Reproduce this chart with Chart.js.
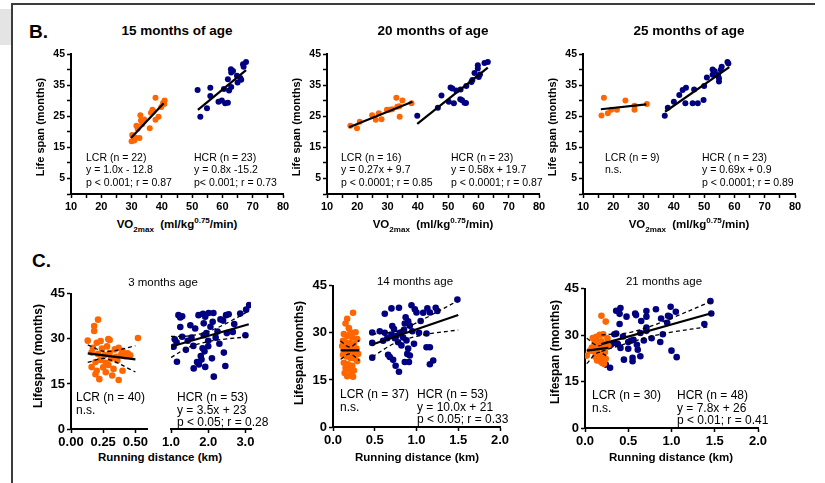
<!DOCTYPE html>
<html><head><meta charset="utf-8">
<script src="https://cdn.jsdelivr.net/npm/chart.js@4.4.0/dist/chart.umd.min.js"></script>
<style>
html,body{margin:0;padding:0;background:#fff;}
#fig{position:relative;width:825px;height:483px;overflow:hidden;background:#fff;font-family:"Liberation Sans",Arial,Helvetica,sans-serif;color:#000;}
#fig canvas{position:absolute;}
.t{position:absolute;white-space:nowrap;line-height:1;}
.l{transform:translateY(-50%);}
.c{transform:translate(-50%,-50%);}
.r{transform:translate(-50%,-50%) rotate(-90deg);}
.ln{position:absolute;background:#3c3c3c;}
sub,sup{font-size:70%;line-height:0;}
</style></head><body><div id="fig"></div>
<script>
// ---------- Panel B: VO2max vs life span ----------
const b15LcrX = [30.0,30.2,30.9,31.2,31.6,32.0,32.6,32.9,33.1,33.5,34.2,36.0,36.4,36.9,37.2,37.9,37.9,38.9,39.8,40.4,40.8,40.9];
const b15LcrY = [17.0,19.0,17.2,18.2,22.0,21.0,18.0,25.4,23.7,22.5,24.0,21.2,26.2,27.1,26.6,31.0,23.9,24.9,28.0,29.3,29.0,30.1];
const b15HcrX = [51.8,52.7,54.9,56.0,56.0,58.7,59.8,60.5,60.9,61.8,61.8,62.2,62.8,62.9,62.9,63.5,64.8,65.0,65.9,66.2,66.8,67.0,67.8];
const b15HcrY = [33.5,24.9,27.6,34.2,31.6,29.7,30.1,33.8,29.2,29.4,37.0,33.3,40.2,39.1,34.5,39.6,38.1,35.9,37.4,36.8,41.8,41.0,42.5];
const b15LcrFitX = [29.8,40.6], b15LcrFitY = [18.0,29.2];
const b15HcrFitX = [51.9,67.8], b15HcrFitY = [27.1,39.9];

const b20LcrX = [17.7,19.9,20.8,24.9,26.1,27.1,28.0,29.8,30.6,32.9,33.2,33.9,34.0,34.9,37.9,31.5];
const b20LcrY = [22.0,21.2,23.3,25.4,23.9,26.0,24.1,27.1,27.1,31.0,28.1,28.3,24.9,30.1,29.2,27.3];
const b20HcrX = [39.8,46.6,47.8,50.2,50.8,51.4,51.9,52.7,54.0,54.6,55.4,55.9,54.1,56.0,57.7,58.0,58.7,59.8,60.1,59.8,62.0,63.1,60.5];
const b20HcrY = [25.2,27.8,31.7,29.7,34.3,34.0,29.2,33.3,30.5,30.2,29.4,29.3,33.7,34.8,36.1,36.7,39.0,40.4,37.7,41.5,42.2,42.5,38.5];
const b20LcrFitX = [17.3,38.2], b20LcrFitY = [21.5,29.7];
const b20HcrFitX = [39.8,63.1], b20HcrFitY = [22.6,40.7];

const b25LcrX = [16.1,16.9,18.2,19.3,21.2,24.0,27.0,27.0,31.1];
const b25LcrY = [25.3,31.0,26.0,27.1,27.1,30.1,28.4,27.1,29.0];
const b25HcrX = [37.0,38.0,40.0,41.8,42.9,44.0,43.8,46.2,47.9,46.7,49.8,50.0,50.9,52.8,52.8,54.6,54.9,54.9,55.5,55.8,57.7,58.0,53.5];
const b25HcrY = [25.2,27.8,29.7,31.9,33.5,34.2,29.2,29.2,29.2,33.7,30.3,34.8,37.5,40.1,38.4,38.3,36.2,37.3,40.0,41.0,42.5,42.0,39.5];
const b25LcrFitX = [15.9,30.9], b25LcrFitY = [27.3,28.9];
const b25HcrFitX = [37.1,58.3], b25HcrFitY = [26.5,40.9];

// ---------- Panel C: running distance vs lifespan ----------
const c3LcrX = [0.21,0.18,0.18,0.13,0.20,0.23,0.29,0.30,0.52,0.17,0.24,0.28,0.34,0.37,0.40,0.44,0.16,0.21,0.26,0.30,0.35,0.39,0.42,0.46,0.19,0.23,0.27,0.31,0.36,0.16,0.20,0.25,0.29,0.33,0.22,0.32,0.37,0.40,0.19,0.27];
const c3LcrY = [36.4,34.3,32.6,29.4,28.7,29.3,29.9,29.6,30.3,27.0,26.8,27.5,26.5,27.0,26.0,25.2,25.5,25.0,24.6,25.3,24.0,24.8,24.2,24.5,22.3,23.0,22.0,23.4,22.8,20.6,19.4,20.5,21.3,20.0,16.6,17.8,16.3,19.4,18.2,18.9];
const c3HcrX = [1.07,1.10,1.15,1.16,1.20,1.25,1.25,1.30,1.30,1.40,1.45,1.52,1.55,1.60,1.61,1.65,1.70,1.74,1.75,1.80,1.82,1.85,1.86,1.88,1.88,1.90,1.92,1.92,1.95,2.00,2.00,2.01,2.06,2.10,2.12,2.14,2.15,2.20,2.25,2.30,2.33,2.40,2.42,2.46,2.48,2.50,2.55,2.66,2.70,2.86,3.00,3.02,3.10];
const c3HcrY = [27.0,29.5,28.5,22.1,37.4,36.6,33.5,30.3,37.0,26.0,29.0,34.1,30.0,27.3,19.9,33.0,22.0,37.4,21.2,24.0,22.8,26.5,37.8,34.7,30.8,25.5,20.4,36.9,31.5,29.0,27.2,38.1,33.6,23.2,35.2,38.1,17.2,30.0,32.0,28.0,36.0,35.6,25.1,20.7,37.4,31.5,37.7,31.9,34.5,37.9,30.8,39.2,40.7];
const c3LcrFitX = [0.13,0.50], c3LcrFitY = [25.2,23.2];
const c3LcrUpX = [0.13,0.27,0.50], c3LcrUpY = [28.0,25.8,27.7];
const c3LcrLoX = [0.13,0.27,0.50], c3LcrLoY = [22.2,23.4,19.0];
const c3HcrFitX = [1.03,3.09], c3HcrFitY = [27.2,34.4];
const c3HcrUpX = [1.0,1.5,2.0,2.5,3.1], c3HcrUpY = [30.4,30.6,32.0,34.8,38.8];
const c3HcrLoX = [1.0,1.5,2.0,2.5,3.1], c3HcrLoY = [23.5,27.0,28.7,29.6,30.3];

const c14LcrX = [0.24,0.17,0.15,0.19,0.21,0.27,0.13,0.17,0.23,0.29,0.12,0.15,0.20,0.25,0.11,0.18,0.22,0.28,0.14,0.19,0.24,0.30,0.12,0.16,0.21,0.26,0.29,0.13,0.18,0.23,0.15,0.20,0.25,0.14,0.22,0.17,0.24];
const c14LcrY = [36.4,34.5,33.0,31.5,30.2,30.2,29.6,29.0,28.6,28.0,27.5,27.0,26.8,26.6,25.8,25.5,25.2,25.0,24.5,24.0,23.8,23.3,23.0,22.5,22.0,21.8,21.0,20.5,20.0,19.5,18.8,18.3,18.0,17.2,16.8,16.2,16.0];
const c14HcrX = [1.49,0.94,0.98,1.00,0.79,0.70,0.62,0.87,0.90,1.13,1.16,1.23,1.25,1.08,0.71,0.92,0.86,0.47,0.47,0.47,0.62,0.70,0.74,0.80,0.78,0.84,0.76,0.88,0.82,0.65,0.68,0.72,0.66,0.89,0.92,0.86,0.91,0.79,1.16,1.12,1.12,1.20,1.16,0.75,0.56,0.60,0.95,1.03,0.97,0.85,0.73,0.90,1.05];
const c14HcrY = [40.6,38.8,37.5,36.5,38.0,37.8,36.1,35.0,33.7,37.8,36.5,38.0,37.0,36.4,32.2,32.3,33.0,30.1,26.8,22.1,30.0,29.5,28.3,30.0,27.0,28.5,29.0,27.6,26.0,28.3,22.3,21.4,23.0,23.3,22.8,20.7,20.7,17.6,25.4,25.4,29.8,21.2,20.0,19.5,30.5,27.5,30.5,30.0,26.5,31.0,31.2,25.0,33.8];
const c14LcrFitX = [0.09,0.315], c14LcrFitY = [24.4,24.4];
const c14LcrUpX = [0.09,0.20,0.315], c14LcrUpY = [27.4,25.5,27.6];
const c14LcrLoX = [0.09,0.20,0.315], c14LcrLoY = [21.6,23.3,21.2];
const c14HcrFitX = [0.47,1.50], c14HcrFitY = [26.3,35.7];
const c14HcrUpX = [0.47,0.70,0.85,1.00,1.20,1.50], c14HcrUpY = [29.6,30.2,31.3,33.2,36.0,40.3];
const c14HcrLoX = [0.47,0.70,0.85,1.00,1.20,1.50], c14HcrLoY = [22.3,26.2,27.8,28.9,29.9,30.9];

const c21LcrX = [0.19,0.24,0.02,0.20,0.17,0.09,0.13,0.21,0.11,0.15,0.19,0.25,0.08,0.12,0.16,0.22,0.10,0.14,0.18,0.23,0.27,0.12,0.16,0.20,0.24,0.14,0.18,0.22,0.06,0.26];
const c21LcrY = [36.3,34.4,23.4,21.0,30.1,29.1,29.5,30.3,27.5,27.8,28.0,27.3,26.0,26.3,26.0,25.8,24.8,24.5,24.0,24.6,26.5,23.0,22.5,23.0,22.4,21.8,21.5,20.8,25.0,29.0];
const c21HcrX = [1.45,1.46,1.38,0.41,0.36,0.40,0.48,0.58,0.59,0.71,0.71,0.82,0.99,0.96,0.98,1.05,0.88,0.40,0.65,0.34,0.71,0.71,0.64,0.77,0.90,0.53,0.56,0.50,0.38,0.33,0.30,0.87,0.41,0.60,0.61,0.50,0.64,0.45,0.55,0.55,1.06,1.00,0.24,0.29,0.36,0.44,0.68,0.95];
const c21HcrY = [41.0,37.0,33.6,38.8,37.9,36.9,36.0,37.0,36.5,37.8,36.0,38.4,39.2,36.3,36.0,37.6,35.4,33.6,34.6,30.3,32.5,31.4,30.7,29.0,30.3,28.2,28.5,27.8,27.1,27.5,26.9,27.8,25.9,26.9,25.3,25.6,23.2,22.1,22.7,21.6,22.9,25.0,20.5,19.5,30.5,29.6,28.3,34.0];
const c21LcrFitX = [0.02,0.27], c21LcrFitY = [25.0,25.9];
const c21LcrUpX = [0.02,0.15,0.27], c21LcrUpY = [29.0,26.6,28.0];
const c21LcrLoX = [0.02,0.15,0.27], c21LcrLoY = [20.8,24.4,23.0];
const c21HcrFitX = [0.19,1.45], c21HcrFitY = [27.1,37.0];
const c21HcrUpX = [0.19,0.50,0.75,1.00,1.45], c21HcrUpY = [30.1,30.8,32.8,35.5,40.8];
const c21HcrLoX = [0.19,0.50,0.75,1.00,1.45], c21HcrLoY = [24.8,27.5,29.5,31.0,32.8];

// ---------- helpers ----------
const ORANGE = '#FF6600', NAVY = '#000080';
const FONT = '"Liberation Sans", Arial, Helvetica, sans-serif';
const fig = document.getElementById('fig');
const zip = (xs, ys) => xs.map((x, i) => ({x, y: ys[i]}));
const dots = (xs, ys, c, r) => ({data: zip(xs, ys), backgroundColor: c, borderColor: c, pointRadius: r || 3, pointBorderWidth: 0, showLine: false});
const fit = (xs, ys) => ({data: zip(xs, ys), showLine: true, pointRadius: 0, borderColor: '#000', borderWidth: 2.2, fill: false});
const band = (xs, ys) => ({data: zip(xs, ys), showLine: true, pointRadius: 0, borderColor: '#000', borderWidth: 1.3, borderDash: [4, 3], tension: 0.35, fill: false});

function plot(o) {
  const cv = document.createElement('canvas');
  const padT = 8, padR = 14, YW = o.showY ? 34 : 0, padL = o.showY ? 0 : 12, XH = 22;
  const W = Math.round(o.W), H = Math.round(o.H);
  cv.width = W + YW + padR + padL; cv.height = H + padT + XH;
  cv.style.left = (Math.round(o.L) - YW - padL) + 'px';
  cv.style.top = (Math.round(o.T) - padT) + 'px';
  fig.appendChild(cv);
  const tickFont = s => ({family: FONT, size: s, weight: 'bold'});
  new Chart(cv, {
    type: 'scatter',
    data: {datasets: o.datasets},
    options: {
      responsive: false, animation: false, events: [],
      layout: {padding: {top: padT, right: padR, left: padL, bottom: 0}},
      plugins: {legend: {display: false}, tooltip: {enabled: false}, title: {display: false}},
      scales: {
        x: {
          type: 'linear', min: o.xMin, max: o.xMax,
          afterFit: s => { s.height = XH; },
          border: {display: true, color: '#000', width: 2},
          grid: {display: true, drawOnChartArea: false, drawTicks: true, tickLength: 4, tickColor: '#000', tickWidth: 1.5},
          ticks: {stepSize: o.xStep, includeBounds: false, autoSkip: false, maxRotation: 0, padding: 2, color: '#000', font: tickFont(o.xFont), callback: o.xCb}
        },
        y: {
          type: 'linear', display: o.showY, min: 0, max: 45,
          afterFit: s => { s.width = YW; },
          border: {display: true, color: '#000', width: 2},
          grid: {display: true, drawOnChartArea: false, drawTicks: true, tickLength: 4, tickColor: '#000', tickWidth: 1.5},
          ticks: {stepSize: o.yStep, includeBounds: false, autoSkip: false, padding: 2, color: '#000', font: tickFont(o.yFont), callback: o.yCb}
        }
      }
    }
  });
}

function txt(html, x, y, size, weight, mode) {
  const d = document.createElement('div');
  d.className = 't ' + mode;
  d.style.left = x + 'px'; d.style.top = y + 'px';
  d.style.fontSize = size + 'px'; d.style.fontWeight = weight;
  d.innerHTML = html;
  fig.appendChild(d);
}
function line(x, y, w, h, color) {
  const d = document.createElement('div');
  d.className = 'ln';
  d.style.left = x + 'px'; d.style.top = y + 'px'; d.style.width = w + 'px'; d.style.height = h + 'px';
  if (color) d.style.background = color;
  fig.appendChild(d);
}

// frame
line(0, 9, 11, 36, '#e4e4e4');
line(11, 3, 804, 2);
line(11, 3, 2, 480);

// ---------- Panel B ----------
const bX = v => (v % 10 === 0 ? v : '');
const bY = v => (v % 10 === 5 ? v : '');
const bPanels = [
  {L: 71, title: '15 months of age', ds: [fit(b15LcrFitX, b15LcrFitY), fit(b15HcrFitX, b15HcrFitY), dots(b15LcrX, b15LcrY, ORANGE), dots(b15HcrX, b15HcrY, NAVY)],
   lcr: ['LCR (n = 22)', 'y = 1.0x - 12.8', 'p &lt; 0.001; r = 0.87'], hcr: ['HCR (n = 23)', 'y = 0.8x -15.2', 'p&lt; 0.001; r = 0.73'], lx: 86, hx: 194},
  {L: 327, title: '20 months of age', ds: [fit(b20LcrFitX, b20LcrFitY), fit(b20HcrFitX, b20HcrFitY), dots(b20LcrX, b20LcrY, ORANGE), dots(b20HcrX, b20HcrY, NAVY)],
   lcr: ['LCR (n = 16)', 'y = 0.27x + 9.7', 'p &lt; 0.0001; r = 0.85'], hcr: ['HCR (n = 23)', 'y = 0.58x + 19.7', 'p &lt; 0.0001; r = 0.87'], lx: 341, hx: 451},
  {L: 583, title: '25 months of age', ds: [fit(b25LcrFitX, b25LcrFitY), fit(b25HcrFitX, b25HcrFitY), dots(b25LcrX, b25LcrY, ORANGE), dots(b25HcrX, b25HcrY, NAVY)],
   lcr: ['LCR (n = 9)', 'n.s.'], hcr: ['HCR ( n = 23)', 'y = 0.69x + 0.9', 'p &lt; 0.0001; r = 0.89'], lx: 605, hx: 702}
];
bPanels.forEach(p => {
  plot({L: p.L, T: 54, W: 212, H: 140, showY: true, xMin: 10, xMax: 80, xStep: 5, xCb: bX, xFont: 11, yStep: 5, yCb: bY, yFont: 10.5, datasets: p.ds});
  txt(p.title, p.L + 106, 31, 13.5, 'bold', 'c');
  txt('Life span (months)', p.L - 31, 127, 11, 'bold', 'r');
  txt('VO<sub>2max</sub>&nbsp; (ml/kg<sup>0.75</sup>/min)', p.L + 106, 225, 11.5, 'bold', 'c');
  p.lcr.forEach((s, i) => txt(s, p.lx, 157 + i * 12.3, 10.5, 'normal', 'l'));
  p.hcr.forEach((s, i) => txt(s, p.hx, 157 + i * 12.3, 10.5, 'normal', 'l'));
});
txt('B.', 29, 31, 19, 'bold', 'l');

// ---------- Panel C ----------
const cY = v => v;
const f1 = v => v.toFixed(1), f2 = v => v.toFixed(2);
const CR = 3.3, CF = 13;
// 3 months age (broken x axis)
plot({L: 71, T: 292, W: 76, H: 137, showY: true, xMin: 0, xMax: 0.59, xStep: 0.25, xCb: f2, xFont: CF, yStep: 15, yCb: cY, yFont: CF,
  datasets: [fit(c3LcrFitX, c3LcrFitY), band(c3LcrUpX, c3LcrUpY), band(c3LcrLoX, c3LcrLoY), dots(c3LcrX, c3LcrY, ORANGE, CR)]});
plot({L: 171, T: 292, W: 80, H: 137, showY: false, xMin: 1.0, xMax: 3.15, xStep: 1, xCb: f1, xFont: CF, yStep: 15, yCb: cY, yFont: CF,
  datasets: [fit(c3HcrFitX, c3HcrFitY), band(c3HcrUpX, c3HcrUpY), band(c3HcrLoX, c3HcrLoY), dots(c3HcrX, c3HcrY, NAVY, CR)]});
// 14 months age
plot({L: 333, T: 284, W: 167, H: 143, showY: true, xMin: 0, xMax: 2, xStep: 0.5, xCb: f1, xFont: CF, yStep: 15, yCb: cY, yFont: CF,
  datasets: [fit(c14LcrFitX, c14LcrFitY), band(c14LcrUpX, c14LcrUpY), band(c14LcrLoX, c14LcrLoY),
             fit(c14HcrFitX, c14HcrFitY), band(c14HcrUpX, c14HcrUpY), band(c14HcrLoX, c14HcrLoY),
             dots(c14LcrX, c14LcrY, ORANGE, CR), dots(c14HcrX, c14HcrY, NAVY, CR)]});
// 21 months age
plot({L: 585, T: 287, W: 173, H: 141, showY: true, xMin: 0, xMax: 2, xStep: 0.5, xCb: f1, xFont: CF, yStep: 15, yCb: cY, yFont: CF,
  datasets: [fit(c21LcrFitX, c21LcrFitY), band(c21LcrUpX, c21LcrUpY), band(c21LcrLoX, c21LcrLoY),
             fit(c21HcrFitX, c21HcrFitY), band(c21HcrUpX, c21HcrUpY), band(c21HcrLoX, c21HcrLoY),
             dots(c21LcrX, c21LcrY, ORANGE, CR), dots(c21HcrX, c21HcrY, NAVY, CR)]});

txt('C.', 32, 260, 19, 'bold', 'l');
const cPanels = [
  {title: '3 months age', tx: 163, ty: 283, yx: 38, yy: 356, xx: 160, lx: 76, hx: 177, ly: 397,
   lcr: ['LCR (n = 40)', 'n.s.'], hcr: ['HCR (n = 53)', 'y = 3.5x + 23', 'p &lt; 0.05; r = 0.28']},
  {title: '14 months age', tx: 415, ty: 282, yx: 299, yy: 353, xx: 417, lx: 340, hx: 417, ly: 394,
   lcr: ['LCR (n = 37)', 'n.s.'], hcr: ['HCR (n = 53)', 'y = 10.0x + 21', 'p &lt; 0.05; r = 0.33']},
  {title: '21 months age', tx: 664, ty: 282, yx: 555, yy: 352, xx: 671, lx: 592, hx: 677, ly: 395,
   lcr: ['LCR (n = 30)', 'n.s.'], hcr: ['HCR (n = 48)', 'y = 7.8x + 26', 'p &lt; 0.01; r = 0.41']}
];
cPanels.forEach(p => {
  txt(p.title, p.tx, p.ty, 11.5, 'normal', 'c');
  txt('Lifespan (months)', p.yx, p.yy, 12, 'bold', 'r');
  txt('Running distance (km)', p.xx, 458, 11.5, 'bold', 'c');
  p.lcr.forEach((s, i) => txt(s, p.lx, p.ly + i * 12.5, 12, 'normal', 'l'));
  p.hcr.forEach((s, i) => txt(s, p.hx, p.ly + i * 12.5, 12, 'normal', 'l'));
});
</script></body></html>
